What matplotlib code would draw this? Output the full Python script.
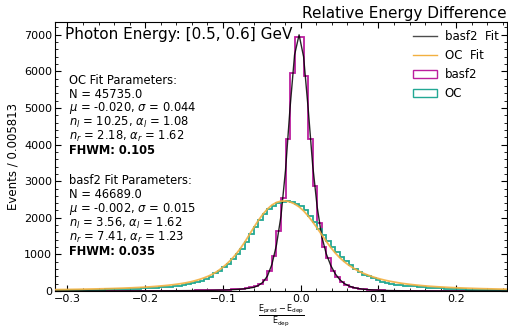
import numpy as np
import matplotlib.pyplot as plt
from matplotlib.ticker import MultipleLocator, AutoMinorLocator
from matplotlib.lines import Line2D
from matplotlib.patches import Patch

# binning (100 bins of width 0.005813)
bin_width = 0.005813
x_start = -0.316
n_bins = 100

# histogram counts per bin
basf2_counts = [1, 1, 1, 1, 1, 1, 2, 2, 2, 2,
                2, 3, 3, 3, 3, 4, 4, 4, 5, 5,
                5, 6, 6, 7, 7, 8, 9, 10, 11, 12,
                13, 15, 16, 18, 20, 23, 26, 30, 35, 42,
                50, 62, 78, 100, 130, 190, 310, 540, 950, 1640,
                2550, 4140, 5960, 6950, 6930, 5870, 4140, 2870, 1860, 1200,
                890, 560, 370, 240, 165, 115, 80, 57, 42, 32,
                25, 20, 16, 13, 11, 9, 8, 7, 6, 5,
                5, 4, 4, 3, 3, 3, 2, 2, 2, 2,
                2, 1, 1, 1, 1, 1, 1, 1, 1, 1]

oc_counts = [20, 21, 23, 24, 26, 28, 30, 32, 34, 37,
             40, 43, 46, 50, 54, 58, 62, 65, 68, 72,
             77, 83, 90, 98, 107, 118, 130, 145, 162, 183,
             207, 235, 268, 320, 395, 480, 560, 645, 740, 865,
             1010, 1160, 1330, 1560, 1760, 1950, 2110, 2230, 2320, 2400,
             2440, 2450, 2430, 2390, 2310, 2200, 2060, 1890, 1700, 1530,
             1360, 1200, 1060, 930, 810, 700, 600, 515, 450, 400,
             345, 295, 255, 220, 190, 170, 155, 143, 132, 123,
             115, 105, 95, 85, 77, 70, 63, 57, 51, 46,
             42, 38, 34, 31, 28, 25, 23, 21, 19, 17]

# fitted curves, read at the bin edges
basf2_fit = [1, 1, 1, 1, 1, 1, 2, 2, 2, 2,
             2, 3, 3, 3, 3, 3, 4, 4, 4, 5,
             5, 5, 6, 6, 7, 7, 8, 9, 10, 11,
             12, 13, 15, 16, 18, 20, 23, 26, 30, 35,
             41, 50, 62, 78, 100, 150, 240, 410, 730, 1260,
             2050, 3300, 5000, 6450, 7000, 6400, 5000, 3450, 2300, 1500,
             1020, 700, 470, 310, 205, 140, 97, 70, 52, 40,
             31, 25, 20, 16, 13, 11, 9, 8, 7, 6,
             5, 5, 4, 4, 3, 3, 3, 2, 2, 2,
             2, 2, 2, 1, 1, 1, 1, 1, 1, 1, 1]

oc_fit = [37, 39, 40, 42, 44, 46, 48, 51, 53, 56,
          59, 62, 65, 69, 73, 77, 82, 87, 93, 99,
          106, 114, 123, 133, 144, 156, 170, 186, 204, 225,
          250, 282, 318, 360, 410, 470, 545, 635, 740, 860,
          1000, 1160, 1340, 1540, 1740, 1930, 2100, 2240, 2350, 2420,
          2455, 2460, 2435, 2380, 2300, 2190, 2050, 1890, 1720, 1540,
          1360, 1190, 1040, 910, 800, 705, 625, 555, 495, 445,
          400, 360, 325, 295, 268, 245, 224, 205, 189, 174,
          161, 149, 138, 128, 120, 112, 105, 98, 92, 87,
          82, 77, 73, 69, 65, 62, 59, 56, 53, 51, 49]

oc_text = ["OC Fit Parameters:", "N = 45735.0",
           r"$\mu$ = -0.020, $\sigma$ = 0.044",
           r"$n_l$ = 10.25, $\alpha_l$ = 1.08",
           r"$n_r$ = 2.18, $\alpha_r$ = 1.62"]
oc_fwhm = "FHWM: 0.105"
basf2_text = ["basf2 Fit Parameters:", "N = 46689.0",
              r"$\mu$ = -0.002, $\sigma$ = 0.015",
              r"$n_l$ = 3.56, $\alpha_l$ = 1.62",
              r"$n_r$ = 7.41, $\alpha_r$ = 1.23"]
basf2_fwhm = "FHWM: 0.035"

c_basf2 = "#bb1e9e"
c_oc = "#22a894"
c_ocfit = "#f2b040"

edges = x_start + bin_width * np.arange(n_bins + 1)
centers = 0.5 * (edges[:-1] + edges[1:])

fig = plt.figure(figsize=(5.08, 3.28), dpi=100)
ax = fig.add_axes([55 / 508, 37 / 328, 452 / 508, 269 / 328])

ax.plot(edges, basf2_fit, color="k", lw=1.0, alpha=0.85, zorder=3)
ax.plot(edges, oc_fit, color=c_ocfit, lw=1.3, alpha=0.9, zorder=3)
ax.hist(centers, bins=edges, weights=basf2_counts, histtype="step",
        color=c_basf2, lw=1.3, zorder=2)
ax.hist(centers, bins=edges, weights=oc_counts, histtype="step",
        color=c_oc, lw=1.3, zorder=2)

handles = [Line2D([], [], color="k", lw=1.0, alpha=0.7),
           Line2D([], [], color=c_ocfit, lw=1.0),
           Patch(facecolor="none", edgecolor=c_basf2, lw=1.0),
           Patch(facecolor="none", edgecolor=c_oc, lw=1.0)]
ax.legend(handles, ["basf2  Fit", "OC  Fit", "basf2", "OC"],
          loc="upper right", frameon=False, fontsize=8.5,
          handlelength=2.0, handletextpad=0.7, borderaxespad=0.3)

ax.set_xlim(edges[0], edges[-1])
ax.set_ylim(0, 7350)
ax.xaxis.set_major_locator(MultipleLocator(0.1))
ax.xaxis.set_minor_locator(MultipleLocator(0.02))
ax.yaxis.set_major_locator(MultipleLocator(1000))
ax.yaxis.set_minor_locator(AutoMinorLocator(5))
ax.tick_params(which="both", direction="in", top=True, right=True,
               labelsize=8, pad=2)
ax.tick_params(which="major", length=4)
ax.tick_params(which="minor", length=2)

ax.set_title("Relative Energy Difference", loc="right", fontsize=11, pad=3)
ax.set_ylabel("Events / 0.005813", fontsize=8.5, labelpad=3)
ax.set_xlabel(r"$\frac{\mathrm{E_{pred}-E_{dep}}}{\mathrm{E_{dep}}}$",
              fontsize=8.4, labelpad=-1)

ax.text(0.022, 0.982, "Photon Energy: [0.5, 0.6] GeV", transform=ax.transAxes,
        fontsize=11, va="top", ha="left")

def param_block(lines, bold, y0):
    step = 14.2 / 270
    for k, s in enumerate(lines):
        ax.text(0.03, y0 - k * step, s, transform=ax.transAxes,
                fontsize=8.3, va="center", ha="left")
    ax.text(0.03, y0 - len(lines) * step, bold, transform=ax.transAxes,
            fontsize=8.3, va="center", ha="left", fontweight="bold")

param_block(oc_text, oc_fwhm, (291 - 80) / 269)
param_block(basf2_text, basf2_fwhm, (291 - 180.7) / 269)

fig.savefig("out.png", dpi=100)
